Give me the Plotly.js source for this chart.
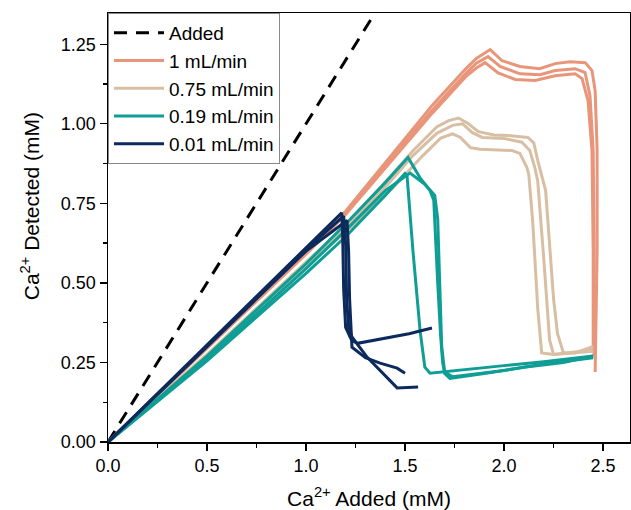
<!DOCTYPE html>
<html>
<head>
<meta charset="utf-8">
<script src="https://cdn.plot.ly/plotly-3.0.1.min.js"></script>
<style>html,body{margin:0;padding:0;background:#fff}#chart{width:631px;height:510px}</style>
</head>
<body>
<div id="chart"></div>
<script>
// Reference line: detected = added
const addedX = [0, 1.45];
const addedY = [0, 1.45];

// 1 mL/min (three runs)
const f1aX = [0, 0.5, 1.0, 1.2, 1.475, 1.64, 1.81, 1.86, 1.93, 1.99, 2.08, 2.18, 2.258, 2.333, 2.41, 2.444, 2.46, 2.47, 2.47, 2.465, 2.46];
const f1aY = [0, 0.30, 0.60, 0.725, 0.935, 1.06, 1.175, 1.205, 1.233, 1.198, 1.18, 1.173, 1.189, 1.195, 1.192, 1.167, 1.104, 0.916, 0.60, 0.35, 0.22];
const f1bX = [0, 0.5, 1.0, 1.2, 1.475, 1.64, 1.81, 1.86, 1.919, 1.98, 2.081, 2.182, 2.258, 2.359, 2.409, 2.434, 2.45, 2.455, 2.455, 2.455];
const f1bY = [0, 0.295, 0.595, 0.72, 0.925, 1.045, 1.16, 1.19, 1.211, 1.18, 1.157, 1.154, 1.167, 1.173, 1.161, 1.088, 0.916, 0.60, 0.29, 0.27];
const f1cX = [0, 0.5, 1.0, 1.2, 1.475, 1.64, 1.81, 1.86, 1.904, 1.97, 2.056, 2.157, 2.258, 2.359, 2.394, 2.424, 2.444, 2.45, 2.45];
const f1cY = [0, 0.295, 0.59, 0.715, 0.915, 1.035, 1.15, 1.175, 1.192, 1.16, 1.139, 1.136, 1.151, 1.157, 1.142, 1.073, 0.916, 0.60, 0.28];

// 0.75 mL/min (three runs)
const f075aX = [0, 0.5, 1.0, 1.2, 1.42, 1.54, 1.66, 1.72, 1.77, 1.82, 1.87, 1.95, 2.02, 2.12, 2.15, 2.17, 2.21, 2.235, 2.25, 2.27, 2.30, 2.36, 2.42, 2.45];
const f075aY = [0, 0.275, 0.565, 0.68, 0.83, 0.915, 0.99, 1.01, 1.018, 1.0, 0.975, 0.965, 0.963, 0.957, 0.94, 0.885, 0.79, 0.58, 0.45, 0.34, 0.28, 0.28, 0.295, 0.30];
const f075bX = [0, 0.5, 1.0, 1.2, 1.42, 1.54, 1.66, 1.74, 1.79, 1.84, 1.89, 2.0, 2.09, 2.13, 2.155, 2.17, 2.2, 2.23, 2.25, 2.32, 2.45];
const f075bY = [0, 0.27, 0.555, 0.67, 0.815, 0.90, 0.97, 0.995, 1.0, 0.972, 0.957, 0.954, 0.942, 0.916, 0.863, 0.82, 0.58, 0.32, 0.275, 0.28, 0.29];
const f075cX = [0, 0.5, 1.0, 1.2, 1.44, 1.59, 1.68, 1.74, 1.78, 1.83, 1.88, 2.04, 2.08, 2.115, 2.125, 2.145, 2.17, 2.19, 2.25, 2.45];
const f075cY = [0, 0.265, 0.55, 0.66, 0.80, 0.90, 0.955, 0.968, 0.957, 0.925, 0.92, 0.916, 0.907, 0.863, 0.84, 0.69, 0.42, 0.28, 0.275, 0.285];

// 0.19 mL/min (three runs)
const f019aX = [0, 0.5, 1.0, 1.2, 1.4, 1.515, 1.576, 1.626, 1.645, 1.655, 1.665, 1.68, 1.69, 1.70, 1.727, 1.9, 2.1, 2.3, 2.45];
const f019aY = [0, 0.27, 0.56, 0.685, 0.815, 0.894, 0.83, 0.79, 0.76, 0.65, 0.50, 0.33, 0.25, 0.215, 0.20, 0.215, 0.235, 0.25, 0.27];
const f019bX = [0, 0.5, 1.0, 1.2, 1.4, 1.50, 1.51, 1.54, 1.576, 1.60, 1.626, 1.8, 2.0, 2.2, 2.45];
const f019bY = [0, 0.255, 0.53, 0.645, 0.775, 0.844, 0.838, 0.60, 0.35, 0.235, 0.216, 0.228, 0.24, 0.252, 0.27];
const f019cX = [0, 0.5, 1.0, 1.2, 1.4, 1.525, 1.6, 1.65, 1.665, 1.675, 1.685, 1.70, 1.74, 2.0, 2.2, 2.45];
const f019cY = [0, 0.26, 0.545, 0.665, 0.79, 0.845, 0.81, 0.775, 0.70, 0.50, 0.30, 0.22, 0.205, 0.225, 0.245, 0.265];

// 0.01 mL/min (three runs)
const f001aX = [0, 0.5, 1.0, 1.18, 1.185, 1.19, 1.20, 1.23, 1.26, 1.40, 1.52, 1.636];
const f001aY = [0, 0.305, 0.61, 0.72, 0.65, 0.48, 0.36, 0.32, 0.31, 0.325, 0.34, 0.358];
const f001bX = [0, 0.5, 1.0, 1.207, 1.215, 1.22, 1.232, 1.30, 1.374, 1.46, 1.5];
const f001bY = [0, 0.30, 0.60, 0.696, 0.60, 0.45, 0.298, 0.265, 0.248, 0.232, 0.216];
const f001cX = [0, 0.5, 1.0, 1.19, 1.20, 1.205, 1.215, 1.232, 1.308, 1.409, 1.46, 1.566];
const f001cY = [0, 0.30, 0.605, 0.71, 0.62, 0.45, 0.36, 0.33, 0.267, 0.204, 0.17, 0.173];

const names = ['Added', '1 mL/min', '0.75 mL/min', '0.19 mL/min', '0.01 mL/min'];
const colors = ['#000000', '#E8957A', '#D8BFA3', '#0F9E95', '#0C2A5C'];
const xTitle = 'Ca<sup>2+</sup> Added (mM)';
const yTitle = 'Ca<sup>2+</sup> Detected (mM)';

const groups = [
  [[f1aX, f1aY], [f1bX, f1bY], [f1cX, f1cY]],
  [[f075aX, f075aY], [f075bX, f075bY], [f075cX, f075cY]],
  [[f019aX, f019aY], [f019bX, f019bY], [f019cX, f019cY]],
  [[f001aX, f001aY], [f001bX, f001bY], [f001cX, f001cY]]
];

const traces = [{
  x: addedX, y: addedY, mode: 'lines', name: names[0],
  line: {color: colors[0], width: 3, dash: '13px,9px'}
}];
groups.forEach((g, gi) => {
  g.forEach((run, ri) => {
    traces.push({
      x: run[0], y: run[1], mode: 'lines', name: names[gi + 1],
      legendgroup: names[gi + 1], showlegend: ri === 0,
      line: {color: colors[gi + 1], width: 3}
    });
  });
});

const font = {family: 'Liberation Sans, Arial, sans-serif', color: '#000'};
const layout = {
  width: 631, height: 510,
  margin: {l: 108, r: 1, t: 13, b: 68},
  paper_bgcolor: '#fff', plot_bgcolor: '#fff',
  showlegend: true,
  legend: {
    x: 0, y: 1, xanchor: 'left', yanchor: 'top',
    bgcolor: '#fff', bordercolor: '#888', borderwidth: 1,
    font: Object.assign({size: 19}, font),
    tracegroupgap: 0, itemwidth: 50
  },
  xaxis: {
    range: [0, 2.636], tickvals: [0, 0.5, 1.0, 1.5, 2.0, 2.5], tickformat: '.1f',
    showgrid: false, zeroline: false,
    showline: true, linecolor: '#000', linewidth: 1.5, mirror: true,
    ticks: 'outside', ticklen: 7, tickwidth: 1.3, tickcolor: '#000',
    minor: {dtick: 0.25, tick0: 0, ticks: 'outside', ticklen: 4, tickwidth: 1.3, tickcolor: '#000'},
    tickfont: Object.assign({size: 18}, font),
    title: {text: xTitle, font: Object.assign({size: 21}, font), standoff: 16}
  },
  yaxis: {
    range: [0, 1.348], tickvals: [0, 0.25, 0.5, 0.75, 1.0, 1.25], tickformat: '.2f',
    showgrid: false, zeroline: false,
    showline: true, linecolor: '#000', linewidth: 1.5, mirror: true,
    ticks: 'outside', ticklen: 7, tickwidth: 1.3, tickcolor: '#000',
    minor: {dtick: 0.125, tick0: 0, ticks: 'outside', ticklen: 4, tickwidth: 1.3, tickcolor: '#000'},
    tickfont: Object.assign({size: 18}, font)
  },
  annotations: [{
    text: yTitle, textangle: -90, showarrow: false,
    xref: 'paper', yref: 'paper', x: -0.149, y: 0.55,
    xanchor: 'center', yanchor: 'middle',
    font: Object.assign({size: 21}, font)
  }]
};

Plotly.newPlot('chart', traces, layout, {displayModeBar: false, staticPlot: true});
</script>
</body>
</html>
